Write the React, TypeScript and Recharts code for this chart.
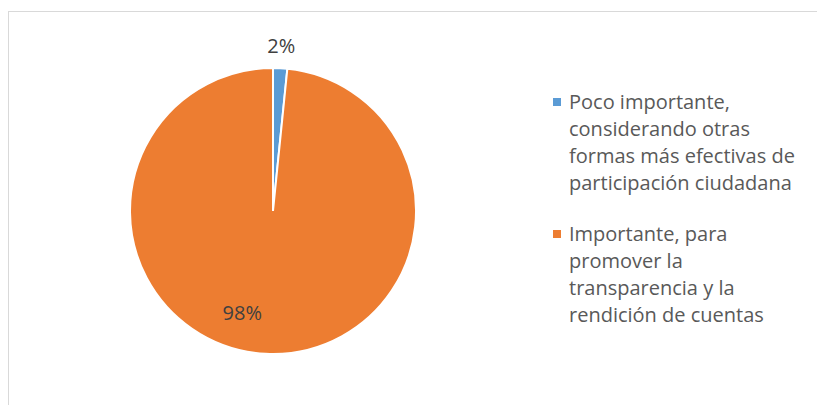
import React from "react";
import { PieChart, Pie, Cell, Legend } from "recharts";

const categories = [
  "Poco importante, considerando otras formas más efectivas de participación ciudadana",
  "Importante, para promover la transparencia y la rendición de cuentas",
];
const legendLines = [
  ["Poco importante,", "considerando otras", "formas más efectivas de", "participación ciudadana"],
  ["Importante, para", "promover la", "transparencia y la", "rendición de cuentas"],
];
const values = [1.6, 98.4];
const colors = ["#5B9BD5", "#ED7D31"];

const data = categories.map((name, i) => ({ name, value: values[i] }));

const FONT = "'Open Sans', sans-serif";

const renderLabel = (props: any) => {
  const { cx, cy, midAngle, outerRadius, percent, index } = props;
  const RAD = Math.PI / 180;
  const small = percent < 0.05;
  const r = small ? outerRadius + 23 : outerRadius * 0.74;
  const ang = small ? midAngle : midAngle - 14;
  const x = cx + r * Math.cos(-ang * RAD);
  const y = cy + r * Math.sin(-ang * RAD);
  return (
    <text
      key={index}
      x={x}
      y={y}
      textAnchor="middle"
      dominantBaseline="central"
      fill="#404040"
      fontSize={20}
      fontFamily={FONT}
    >
      {`${Math.round(percent * 100)}%`}
    </text>
  );
};

const LegendContent = () => (
  <div style={{ fontFamily: FONT, fontSize: 20, color: "#595959" }}>
    {legendLines.map((lines, i) => (
      <div key={i} style={{ position: "relative", paddingLeft: 24, marginBottom: 24 }}>
        <span
          style={{
            position: "absolute",
            left: 8,
            top: 9.5,
            width: 8,
            height: 8,
            background: colors[i],
          }}
        />
        {lines.map((l, j) => (
          <div key={j} style={{ lineHeight: "27px", whiteSpace: "nowrap" }}>
            {l}
          </div>
        ))}
      </div>
    ))}
  </div>
);

export default function App() {
  return (
    <div
      style={{
        position: "fixed",
        left: 0,
        top: 0,
        width: 817,
        height: 405,
        overflow: "hidden",
        background: "#ffffff",
      }}
    >
      <div
        style={{
          position: "absolute",
          left: 8,
          top: 11,
          width: 809,
          height: 397,
          borderTop: "1.5px solid #d9d9d9",
          borderLeft: "1.5px solid #d9d9d9",
          boxSizing: "border-box",
        }}
      />
      <div style={{ position: "absolute", left: 8, top: 8 }}>
        <PieChart width={801} height={389}>
          <Pie
            data={data}
            dataKey="value"
            nameKey="name"
            cx={260}
            cy={198}
            outerRadius={143}
            startAngle={90}
            endAngle={-270}
            stroke="#ffffff"
            strokeWidth={2}
            label={renderLabel}
            labelLine={false}
            isAnimationActive={false}
          >
            {data.map((d, i) => (
              <Cell key={d.name} fill={colors[i]} />
            ))}
          </Pie>
          <Legend
            content={<LegendContent />}
            layout="vertical"
            wrapperStyle={{ position: "absolute", left: 537, top: 80, width: 230 }}
          />
        </PieChart>
      </div>
    </div>
  );
}
